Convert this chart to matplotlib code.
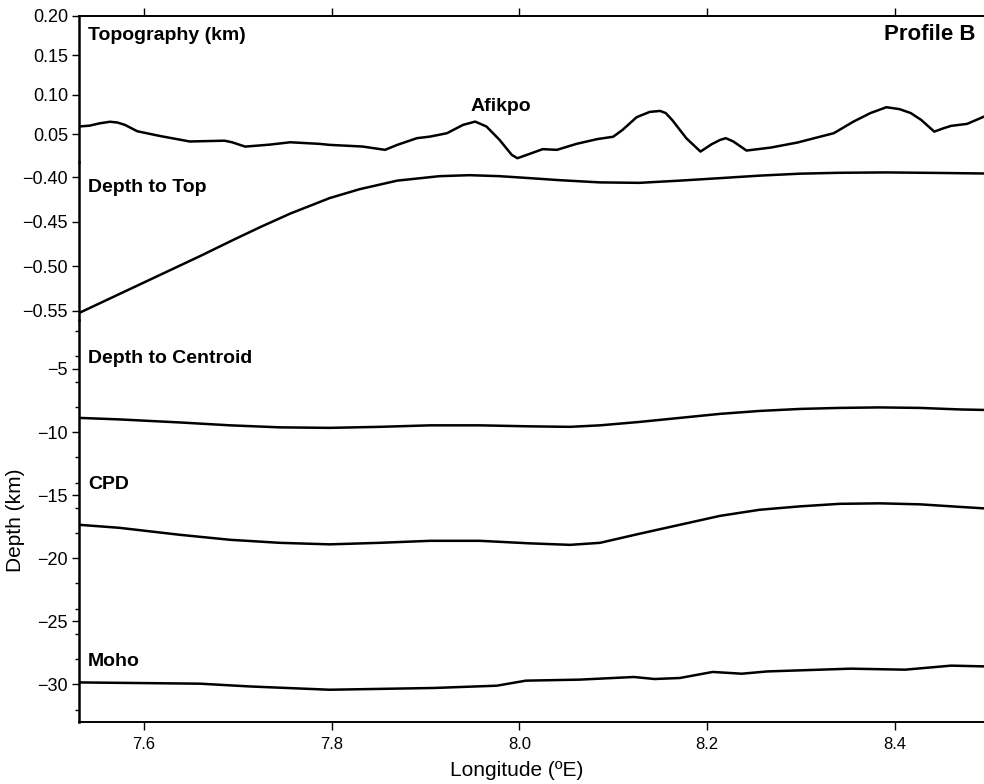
import numpy as np
import matplotlib
matplotlib.use("Agg")
import matplotlib.pyplot as plt
from matplotlib.ticker import FixedLocator, FuncFormatter

plt.rcParams['font.family'] = ['Liberation Sans', 'DejaVu Sans']

# ---- data (longitude in deg E, values in km) ----
topo_lon = [7.531, 7.542, 7.553, 7.564, 7.572, 7.580, 7.593, 7.617, 7.649, 7.686,
            7.694, 7.708, 7.734, 7.756, 7.787, 7.798, 7.833, 7.857, 7.870, 7.891,
            7.905, 7.923, 7.940, 7.953, 7.965, 7.979, 7.992, 7.998, 8.011, 8.025,
            8.040, 8.061, 8.083, 8.100, 8.110, 8.125, 8.139, 8.150, 8.156, 8.163,
            8.178, 8.193, 8.205, 8.214, 8.220, 8.228, 8.242, 8.268, 8.296, 8.335,
            8.356, 8.374, 8.391, 8.405, 8.417, 8.428, 8.442, 8.452, 8.460, 8.477,
            8.495]
topo_km = [0.060, 0.061, 0.064, 0.066, 0.065, 0.062, 0.054, 0.048, 0.041, 0.042,
           0.040, 0.0345, 0.037, 0.040, 0.038, 0.0367, 0.0346, 0.0304, 0.0367, 0.0452,
           0.0472, 0.0515, 0.062, 0.0662, 0.060, 0.043, 0.024, 0.0198, 0.0253, 0.0313,
           0.0304, 0.038, 0.044, 0.047, 0.0557, 0.0718, 0.0785, 0.0797, 0.077, 0.068,
           0.045, 0.0282, 0.0376, 0.0430, 0.0452, 0.041, 0.0295, 0.0333, 0.0396, 0.0515,
           0.0662, 0.077, 0.0844, 0.082, 0.077, 0.0684, 0.0535, 0.0578, 0.0608, 0.0633,
           0.0725]

top_lon = [7.531, 7.574, 7.617, 7.660, 7.695, 7.724, 7.756, 7.798, 7.830, 7.870,
           7.915, 7.947, 7.979, 8.011, 8.043, 8.086, 8.128, 8.171, 8.214, 8.256,
           8.299, 8.341, 8.391, 8.448, 8.495]
top_km = [-0.5525, -0.5312, -0.5099, -0.4886, -0.4706, -0.4561, -0.4409, -0.4235, -0.4135, -0.4039,
          -0.3989, -0.3978, -0.3989, -0.4011, -0.4034, -0.4059, -0.4064, -0.4039, -0.4011, -0.3983,
          -0.3961, -0.3951, -0.3947, -0.3953, -0.3959]

cent_lon = [7.531, 7.574, 7.638, 7.692, 7.745, 7.798, 7.851, 7.905, 7.958, 8.011,
            8.054, 8.086, 8.128, 8.171, 8.214, 8.256, 8.299, 8.341, 8.384, 8.427,
            8.469, 8.495]
cent_km = [-8.88, -9.00, -9.24, -9.47, -9.63, -9.67, -9.59, -9.47, -9.47, -9.55,
           -9.59, -9.47, -9.20, -8.88, -8.56, -8.33, -8.17, -8.09, -8.05, -8.09,
           -8.21, -8.25]

cpd_lon = [7.531, 7.574, 7.638, 7.692, 7.745, 7.798, 7.851, 7.905, 7.958, 8.011,
           8.054, 8.086, 8.128, 8.171, 8.214, 8.256, 8.299, 8.341, 8.384, 8.427,
           8.469, 8.495]
cpd_km = [-17.35, -17.59, -18.14, -18.54, -18.78, -18.90, -18.78, -18.62, -18.62, -18.82,
          -18.94, -18.78, -18.06, -17.35, -16.64, -16.16, -15.89, -15.69, -15.65, -15.73,
          -15.93, -16.05]

moho_lon = [7.531, 7.660, 7.713, 7.798, 7.909, 7.976, 8.007, 8.064, 8.122, 8.144,
            8.171, 8.206, 8.237, 8.264, 8.353, 8.411, 8.460, 8.495]
moho_km = [-29.84, -29.94, -30.16, -30.42, -30.28, -30.10, -29.70, -29.62, -29.41, -29.57,
           -29.49, -29.01, -29.15, -28.97, -28.75, -28.83, -28.51, -28.57]

lon_ticks = [7.6, 7.8, 8.0, 8.2, 8.4]
topo_ticks = [0.05, 0.10, 0.15, 0.20]
top_ticks = [-0.40, -0.45, -0.50, -0.55]
depth_ticks = [-5, -10, -15, -20, -25, -30]
depth_minor = [-2, -4, -6, -8, -12, -14, -16, -18, -22, -24, -26, -28, -32]

# ---- layout (pixels of a 984x784 canvas) ----
W, H = 984, 784
left_px, right_px = 79, 984
rows_px = [16, 162, 319.7, 722.3]
lw_line = 1.8


def frac_box(y0, y1):
    return [left_px / W, 1 - y1 / H, (right_px - left_px) / W, (y1 - y0) / H]


def minus(fmt):
    return FuncFormatter(lambda v, p: (fmt % v).replace('-', '\u2212'))


fig = plt.figure(figsize=(W / 100, H / 100), dpi=100)
ax_topo = fig.add_axes(frac_box(rows_px[0], rows_px[1]))
ax_top = fig.add_axes(frac_box(rows_px[1], rows_px[2]))
ax_dep = fig.add_axes(frac_box(rows_px[2], rows_px[3]))

xlim = (7.531, 8.495)
for ax in (ax_topo, ax_top, ax_dep):
    ax.set_xlim(*xlim)
    ax.patch.set_alpha(0)
    for s in ('top', 'bottom', 'right'):
        ax.spines[s].set_visible(False)
    ax.spines['left'].set_linewidth(1.8)
    ax.tick_params(axis='y', which='major', direction='out', length=5.4, width=1.0,
                   pad=2.5, labelsize=13)
    ax.tick_params(axis='y', which='minor', direction='out', length=2.9, width=1.0)
    ax.tick_params(axis='x', bottom=False, labelbottom=False)

ax_topo.plot(topo_lon, topo_km, color='black', lw=lw_line, solid_joinstyle='round')
ax_topo.set_ylim(0.015, 0.20)
ax_topo.yaxis.set_major_locator(FixedLocator(topo_ticks))
ax_topo.yaxis.set_major_formatter(minus('%.2f'))
ax_topo.spines['top'].set_visible(True)
ax_topo.spines['top'].set_linewidth(1.4)
ax_topo.xaxis.set_major_locator(FixedLocator(lon_ticks))
ax_topo.tick_params(axis='x', top=True, labeltop=False, direction='out',
                    length=5.6, width=1.0)

ax_top.plot(top_lon, top_km, color='black', lw=lw_line, solid_joinstyle='round')
ax_top.set_ylim(-0.56, -0.383)
ax_top.yaxis.set_major_locator(FixedLocator(top_ticks))
ax_top.yaxis.set_major_formatter(minus('%.2f'))

for lon, km in ((cent_lon, cent_km), (cpd_lon, cpd_km), (moho_lon, moho_km)):
    ax_dep.plot(lon, km, color='black', lw=lw_line, solid_joinstyle='round')
ax_dep.set_ylim(-33.0, -1.1)
ax_dep.yaxis.set_major_locator(FixedLocator(depth_ticks))
ax_dep.yaxis.set_minor_locator(FixedLocator(depth_minor))
ax_dep.yaxis.set_major_formatter(minus('%d'))
ax_dep.spines['bottom'].set_visible(True)
ax_dep.spines['bottom'].set_linewidth(1.4)
ax_dep.xaxis.set_major_locator(FixedLocator(lon_ticks))
ax_dep.xaxis.set_major_formatter(FuncFormatter(lambda v, p: '%.1f' % v))
ax_dep.tick_params(axis='x', bottom=True, labelbottom=True, direction='out',
                   length=5.6, width=1.0, pad=5, labelsize=12)


def ftext(x, y, s, **kw):
    fig.text(x / W, 1 - y / H, s, **kw)


bold = dict(fontweight='bold', fontsize=14, va='baseline')
ftext(88, 39.5, 'Topography (km)', ha='left', **bold)
ftext(976, 40.5, 'Profile B', ha='right', fontweight='bold', fontsize=16, va='baseline')
ftext(501, 111, 'Afikpo', ha='center', **bold)
ftext(88, 192, 'Depth to Top', ha='left', **bold)
ftext(88, 363, 'Depth to Centroid', ha='left', **bold)
ftext(88, 489, 'CPD', ha='left', **bold)
ftext(88, 666, 'Moho', ha='left', **bold)

ftext(517, 770, 'Longitude (\u00baE)', ha='center', va='center', fontsize=15)
ftext(16, 520, 'Depth (km)', ha='center', va='center', rotation=90, fontsize=15)

fig.savefig('out.png', dpi=100)
